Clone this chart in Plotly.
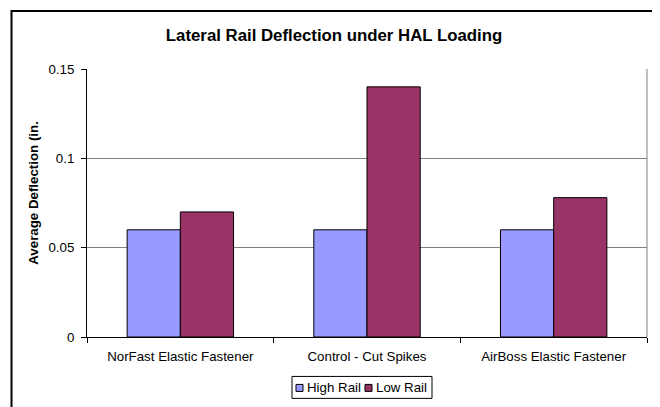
import plotly.graph_objects as go

categories = ["NorFast Elastic Fastener", "Control - Cut Spikes", "AirBoss Elastic Fastener"]
high_rail = [0.06, 0.06, 0.06]
low_rail = [0.07, 0.14, 0.078]
y_ticks = [0, 0.05, 0.1, 0.15]
y_tick_labels = ["0", "0.05", "0.1", "0.15"]
series_names = ["High Rail", "Low Rail"]
series_colors = ["#9999FF", "#993366"]

FONT = "Liberation Sans, Arial, sans-serif"
OFF = 8  # page body margin offset
W, H = 660 - OFF, 407 - OFF
# plot area in page pixels: x 87..647, y 69..337.5
L, R, T = 87 - OFF, 660 - 647, 69 - OFF
B = 407 - 337.5
pw, ph = W - L - R, H - T - B


def px_x(x):
    return (x - OFF - L) / pw


def px_y(y):
    return (H - B - (y - OFF)) / ph


fig = go.Figure()
for name, vals, col in zip(series_names, [high_rail, low_rail], series_colors):
    fig.add_trace(go.Bar(name=name, x=categories, y=vals,
                         marker=dict(color=col, line=dict(color="#000000", width=1))))

shapes = [
    dict(type="line", xref="paper", yref="paper", x0=1, x1=1, y0=0, y1=1,
         line=dict(color="#808080", width=1)),
    dict(type="rect", xref="paper", yref="paper",
         x0=px_x(11.5), x1=px_x(656.5), y0=px_y(11), y1=px_y(420),
         line=dict(color="black", width=2), fillcolor="rgba(0,0,0,0)", layer="above"),
    # legend box
    dict(type="rect", xref="paper", yref="paper",
         x0=px_x(292), x1=px_x(432), y0=px_y(377), y1=px_y(399),
         line=dict(color="black", width=1), fillcolor="white", layer="above"),
]
annotations = [
    dict(text="<b>Average Deflection (in.</b>", xref="paper", yref="paper",
         x=px_x(34), y=px_y(193), xanchor="center", yanchor="middle",
         textangle=-90, showarrow=False, font=dict(family=FONT, size=13.3, color="black")),
]
# custom compact legend
legend_sq_x = [296, 365]
for name, col, sx in zip(series_names, series_colors, legend_sq_x):
    shapes.append(dict(type="rect", xref="paper", yref="paper",
                       x0=px_x(sx), x1=px_x(sx + 7), y0=px_y(385), y1=px_y(392),
                       line=dict(color="black", width=1), fillcolor=col, layer="above"))
    annotations.append(dict(text=name, xref="paper", yref="paper",
                            x=px_x(sx + 9), y=px_y(388.5), xanchor="left", yanchor="middle",
                            showarrow=False, font=dict(family=FONT, size=13.3, color="black")))

fig.update_layout(
    width=W, height=H,
    margin=dict(l=L, r=R, t=T, b=B, autoexpand=False),
    paper_bgcolor="white", plot_bgcolor="white",
    barmode="group", bargap=0.43, bargroupgap=0,
    font=dict(family=FONT, size=13.3, color="black"),
    title=dict(text="<b>Lateral Rail Deflection under HAL Loading</b>",
               font=dict(family=FONT, size=16.8, color="black"),
               x=px_x(334), xanchor="center", xref="paper",
               y=1 - (35 - OFF) / H, yanchor="middle"),
    showlegend=False,
    xaxis=dict(showline=True, linecolor="black", linewidth=1,
               ticks="outside", tickson="boundaries", ticklen=5, tickcolor="black",
               showgrid=False, tickfont=dict(family=FONT, size=13.3),
               ticklabelstandoff=7, automargin=False),
    yaxis=dict(range=[0, 0.15], tickvals=y_ticks, ticktext=y_tick_labels,
               showline=True, linecolor="black", linewidth=1,
               ticks="outside", ticklen=5, tickcolor="black",
               showgrid=True, gridcolor="#808080", gridwidth=1,
               zeroline=False, automargin=False, ticklabelstandoff=4,
               tickfont=dict(family=FONT, size=13.3)),
    shapes=shapes,
    annotations=annotations,
)

fig.write_html("out.html")
